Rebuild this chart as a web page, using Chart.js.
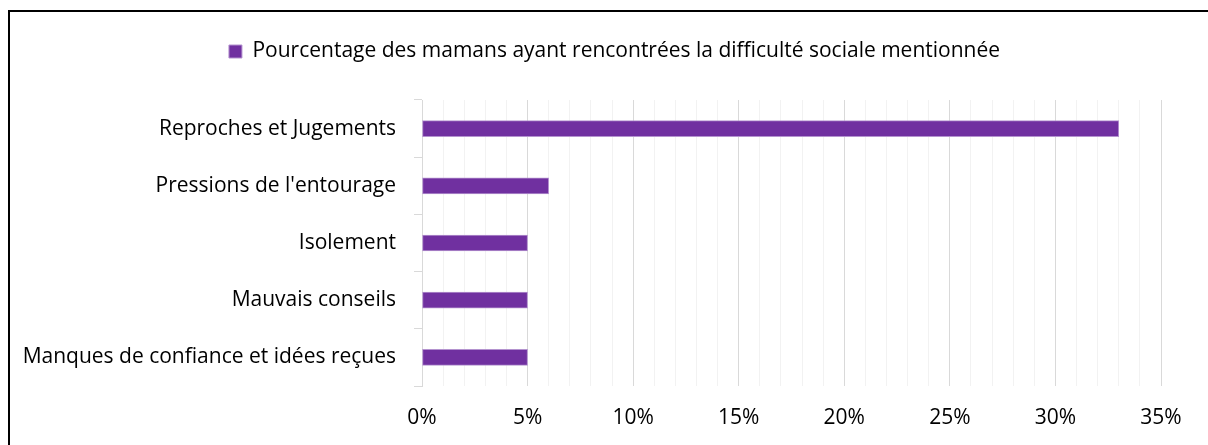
<!DOCTYPE html>
<html lang="fr">
<head>
    <meta charset="UTF-8">
    <title>Difficultés sociales des mamans</title>
    <script src="https://cdn.jsdelivr.net/npm/chart.js"></script>
    <style>
        html, body { margin: 0; padding: 0; background: #fff; overflow: hidden; }
        #frame {
            position: absolute; left: 8px; top: 10px;
            width: 1400px; height: 600px;
            border-left: 2px solid #000; border-top: 2px solid #000;
        }
        #wrap { position: absolute; left: 0; top: 0; width: 1208px; height: 445px; }
    </style>
</head>
<body>
    <div id="frame"></div>
    <div id="wrap"><canvas id="socialChart"></canvas></div>

    <script>
        // categories, top to bottom
        const categories = [
            'Reproches et Jugements',
            "Pressions de l'entourage",
            'Isolement',
            'Mauvais conseils',
            'Manques de confiance et idées reçues'
        ];
        const seriesLabel = 'Pourcentage des mamans ayant rencontrées la difficulté sociale mentionnée';
        const percentages = [33, 6, 5, 5, 5];
        const xMin = 0;
        const xMax = 35;

        const FONT = "'Open Sans', sans-serif";

        // room below the legend, and the legend sits a bit right of centre
        const legendPlace = {
            id: 'legendPlace',
            beforeInit(chart) {
                const fit = chart.legend.fit;
                chart.legend.fit = function () {
                    fit.bind(chart.legend)();
                    this.height = 100;
                };
            },
            afterLayout(chart) {
                chart.legend.left += 34;
                chart.legend.right += 34;
            }
        };

        const ctx = document.getElementById('socialChart').getContext('2d');
        new Chart(ctx, {
            type: 'bar',
            data: {
                labels: categories,
                datasets: [{
                    label: seriesLabel,
                    data: percentages,
                    backgroundColor: '#7030A0',
                    borderColor: '#b493cf',
                    borderWidth: 1,
                    borderSkipped: false,
                    barThickness: 16
                }]
            },
            options: {
                indexAxis: 'y',
                responsive: true,
                maintainAspectRatio: false,
                animation: false,
                layout: { padding: { left: 0, right: 47, top: 0, bottom: 0 } },
                scales: {
                    x: {
                        min: xMin,
                        max: xMax,
                        afterFit(scale) { scale.height = 59; },
                        border: { display: false },
                        grid: {
                            drawTicks: false,
                            color: c => (c.tick && c.tick.value % 5 === 0) ? '#d9d9d9' : '#f2f2f2',
                            lineWidth: 1
                        },
                        ticks: {
                            stepSize: 1,
                            autoSkip: false,
                            maxRotation: 0,
                            padding: 19,
                            color: '#000',
                            font: { family: FONT, size: 21 },
                            callback: v => (v % 5 === 0 ? v + '%' : '')
                        }
                    },
                    y: {
                        afterFit(scale) { scale.width = 422; },
                        border: { display: true, color: '#d9d9d9' },
                        grid: {
                            offset: true,
                            drawOnChartArea: false,
                            tickLength: 8,
                            color: '#d9d9d9'
                        },
                        ticks: {
                            padding: 18,
                            color: '#000',
                            font: { family: FONT, size: 21 }
                        }
                    }
                },
                plugins: {
                    legend: {
                        position: 'top',
                        labels: {
                            boxWidth: 13,
                            boxHeight: 13,
                            padding: 41,
                            color: '#000',
                            font: { family: FONT, size: 21 }
                        }
                    },
                    tooltip: { enabled: false }
                }
            },
            plugins: [legendPlace]
        });
    </script>
</body>
</html>
